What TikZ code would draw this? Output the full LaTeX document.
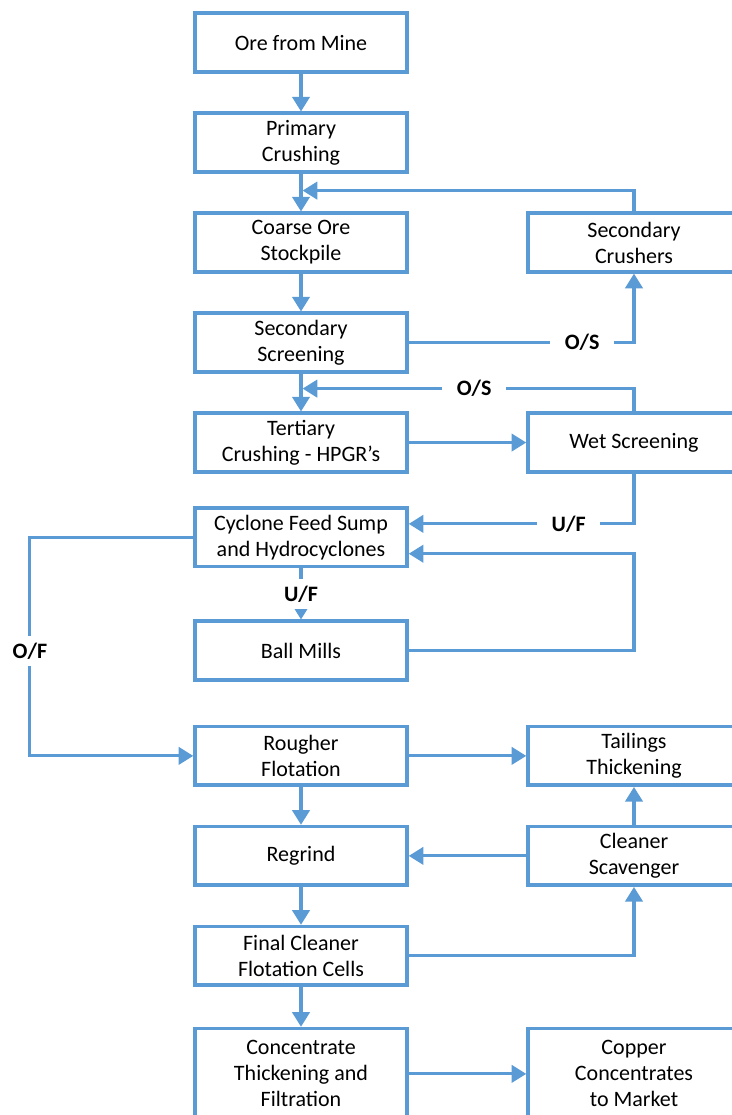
\documentclass[tikz,border=0pt]{standalone}
\usepackage{fontspec}
\setmainfont{Carlito}
\usetikzlibrary{positioning,arrows.meta}
\definecolor{flowblue}{HTML}{5B9BD5}
\tikzset{>={Triangle[length=11pt,width=13pt]}}

\begin{document}
\begin{tikzpicture}[node distance=75pt,
    box/.style={draw=flowblue, line width=2.6pt, minimum width=159pt, minimum height=44pt,
      align=center, font=\fontsize{16.5}{19.5}\selectfont},
    flow/.style={->, color=flowblue, line width=2.3pt},
    lbl/.style={fill=white, text=black, font=\fontsize{16.5}{19.5}\selectfont\bfseries,
      inner xsep=11pt, inner ysep=5pt}]
        \useasboundingbox (0,0) rectangle (549pt,-836.25pt);
        \clip (0,0) rectangle (549pt,-836.25pt);

        % main line
        \node[box] (ore) at (225.75pt,-31.9pt) {Ore from Mine};
        \node[box, below of=ore] (primary) {Primary\\Crushing};
        \node[box, below of=primary] (coarse) {Coarse Ore\\Stockpile};
        \node[box, below of=coarse] (secscreen) {Secondary\\Screening};
        \node[box, below of=secscreen] (tertiary) {Tertiary\\Crushing - HPGR's};
        \node[box, node distance=71pt, below of=tertiary] (cyclone) {Cyclone Feed Sump\\and Hydrocyclones};
        \node[box, node distance=85pt, below of=cyclone] (ball) {Ball Mills};
        \node[box, node distance=79pt, below of=ball] (rougher) {Rougher\\Flotation};
        \node[box, below of=rougher] (regrind) {Regrind};
        \node[box, below of=regrind] (final) {Final Cleaner\\Flotation Cells};
        \node[box, node distance=88.5pt, below of=final, minimum height=68pt] (conc) {Concentrate\\Thickening and\\Filtration};

        % side column
        \node[box, node distance=249.75pt, right of=coarse] (crushers) {Secondary\\Crushers};
        \node[box, node distance=249.75pt, right of=tertiary] (wet) {Wet Screening};
        \node[box, node distance=249.75pt, right of=rougher] (tailings) {Tailings\\Thickening};
        \node[box, node distance=249.75pt, right of=regrind] (scav) {Cleaner\\Scavenger};
        \node[box, node distance=249.75pt, right of=conc, minimum height=68pt] (copper) {Copper\\Concentrates\\to Market};

        \coordinate (join1) at ([yshift=-12.75pt]primary.south);
        \coordinate (join2) at ([yshift=-11.25pt]secscreen.south);

        \path[flow]
        (ore) edge (primary)
        (primary) edge (coarse)
        (coarse) edge (secscreen)
        (secscreen) edge (tertiary)
        (tertiary) edge (wet)
        (rougher) edge (regrind)
        (rougher) edge (tailings)
        (scav) edge (tailings)
        (scav) edge (regrind)
        (regrind) edge (final)
        (final) edge (conc)
        (conc) edge (copper);

        % recycle loops
        \draw[flow, shorten >=1.2pt] (crushers.north) |- (join1);
        \draw[flow] (secscreen.east) -| node[lbl, pos=0.385] {O/S} (crushers.south);
        \draw[flow, shorten >=1.2pt] (wet.north) |- node[lbl, pos=0.74] {O/S} (join2);
        \draw[flow] (wet.south) |- node[lbl, pos=0.645] {U/F} ([yshift=10pt]cyclone.east);
        \draw[flow] (cyclone) -- node[lbl] {U/F} (ball);
        \draw[flow] (ball.east) -- (ball.east -| wet.south) |- ([yshift=-12.4pt]cyclone.east);
        \draw[flow] (cyclone.west) -- ++(-122.5pt,0) |- node[lbl, pos=0.26] {O/F} (rougher.west);
        \draw[flow] (final.east) -| (scav.south);
\end{tikzpicture}
\end{document}
